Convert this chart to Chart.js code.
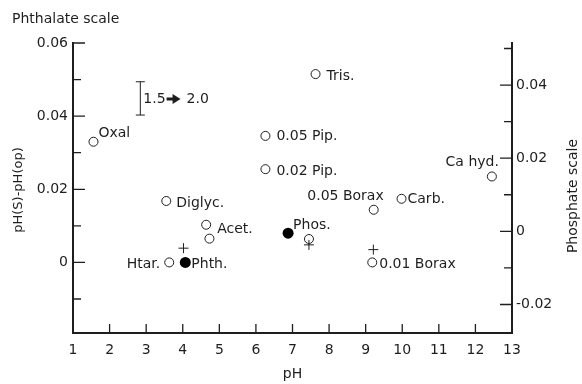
<!DOCTYPE html>
<html>
<head>
<meta charset="utf-8">
<script src="https://cdn.jsdelivr.net/npm/chart.js@4.4.1/dist/chart.umd.min.js"></script>
<style>
  html, body { margin: 0; padding: 0; background: #fff; }
  #wrap { width: 582px; height: 384px; position: relative; }
</style>
</head>
<body>
<div id="wrap"><canvas id="chart"></canvas></div>
<script>
// Buffer standards: pH against pH(S) - pH(op) on the phthalate scale
const bufferNames = ['Oxal', 'Diglyc.', 'Acet.', '', 'Htar.', 'Tris.', '0.05 Pip.', '0.02 Pip.',
                     '0.05 Borax', 'Carb.', 'Ca hyd.', '', '0.01 Borax'];
const bufferPH    = [1.56, 3.55, 4.64, 4.73, 3.63, 7.63, 6.26, 6.26, 9.22, 9.98, 12.45, 7.45, 9.18];
const bufferDiff  = [0.033, 0.0168, 0.0103, 0.0065, 0.0, 0.0515, 0.0346, 0.0255, 0.0144, 0.0174, 0.0235, 0.0064, 0.0];

// Reference standards (filled)
const refNames = ['Phth.', 'Phos.'];
const refPH    = [4.07, 6.88];
const refDiff  = [0.0, 0.008];

// Crosses
const crossPH   = [4.02, 7.45, 9.21];
const crossDiff = [0.0039, 0.0048, 0.0035];

// Error bar marker with the "1.5 -> 2.0" note
const errPH = 2.84;
const errLow = 0.0403;
const errHigh = 0.0494;
const errFrom = '1.5';
const errTo = '2.0';

// Axes
const phTicks = [1, 2, 3, 4, 5, 6, 7, 8, 9, 10, 11, 12, 13];
const phMin = 1, phMax = 13;
const leftTickValues = [0, 0.02, 0.04, 0.06];
const leftTickLabels = ['0', '0.02', '0.04', '0.06'];
const leftMinor = [-0.01, 0.01, 0.03, 0.05];
const leftMin = -0.0193, leftMax = 0.06;
const rightTickValues = [-0.02, 0, 0.02, 0.04];
const rightTickLabels = ['-0.02', '0', '0.02', '0.04'];
const rightMinor = [-0.01, 0.01, 0.03, 0.05];
const rightMin = -0.0278, rightMax = 0.0515;

const INK = '#1e1e1e';
const FONT = "'DejaVu Sans', 'Liberation Sans', sans-serif";

// Label placement relative to each point (pixels)
const labelPlacement = {
  'Oxal':       { dx: 5,  dy: -8.5, align: 'left' },
  'Diglyc.':    { dx: 10, dy: 2,    align: 'left' },
  'Acet.':      { dx: 11, dy: 5,    align: 'left' },
  'Htar.':      { dx: -9, dy: 1.5,  align: 'right' },
  'Tris.':      { dx: 11, dy: 2,    align: 'left' },
  '0.05 Pip.':  { dx: 11, dy: 0,    align: 'left' },
  '0.02 Pip.':  { dx: 11, dy: 2,    align: 'left' },
  '0.05 Borax': { dx: 10, dy: -13,  align: 'right' },
  'Carb.':      { dx: 6,  dy: 1,    align: 'left' },
  'Ca hyd.':    { dx: 7,  dy: -14.5, align: 'right' },
  '0.01 Borax': { dx: 7,  dy: 2,    align: 'left' },
  'Phth.':      { dx: 6,  dy: 1.5,  align: 'left' },
  'Phos.':      { dx: 5,  dy: -8,   align: 'left' }
};

const toPoints = (xs, ys) => xs.map((x, i) => ({ x: x, y: ys[i] }));

// Inward tick marks on the three drawn axes
const inwardTicks = {
  id: 'inwardTicks',
  afterDraw(chart) {
    const { ctx, chartArea, scales } = chart;
    ctx.save();
    ctx.strokeStyle = INK;
    ctx.lineWidth = 1.3;
    ctx.beginPath();
    phTicks.filter(v => v > phMin && v < phMax).forEach(v => {
      const px = scales.x.getPixelForValue(v);
      ctx.moveTo(px, chartArea.bottom);
      ctx.lineTo(px, chartArea.bottom - 9);
    });
    const leftX = chartArea.left, rightX = chartArea.right;
    leftTickValues.forEach(v => {
      const py = scales.y.getPixelForValue(v);
      ctx.moveTo(leftX, py); ctx.lineTo(leftX + 12, py);
    });
    leftMinor.forEach(v => {
      const py = scales.y.getPixelForValue(v);
      ctx.moveTo(leftX, py); ctx.lineTo(leftX + 8, py);
    });
    rightTickValues.forEach(v => {
      const py = scales.y2.getPixelForValue(v);
      ctx.moveTo(rightX, py); ctx.lineTo(rightX - 12, py);
    });
    rightMinor.forEach(v => {
      const py = scales.y2.getPixelForValue(v);
      ctx.moveTo(rightX, py); ctx.lineTo(rightX - 8, py);
    });
    ctx.stroke();
    ctx.restore();
  }
};

// Point labels, error bar note and axis titles
const annotations = {
  id: 'annotations',
  afterDraw(chart) {
    const { ctx, chartArea, scales } = chart;
    ctx.save();
    ctx.fillStyle = INK;
    ctx.font = '14px ' + FONT;
    ctx.textBaseline = 'middle';

    const drawLabel = (name, x, y) => {
      if (!name || !labelPlacement[name]) return;
      const p = labelPlacement[name];
      ctx.textAlign = p.align;
      ctx.fillText(name, scales.x.getPixelForValue(x) + p.dx, scales.y.getPixelForValue(y) + p.dy);
    };
    bufferNames.forEach((n, i) => drawLabel(n, bufferPH[i], bufferDiff[i]));
    refNames.forEach((n, i) => drawLabel(n, refPH[i], refDiff[i]));

    // error bar
    const ex = scales.x.getPixelForValue(errPH);
    const ey1 = scales.y.getPixelForValue(errHigh);
    const ey2 = scales.y.getPixelForValue(errLow);
    ctx.strokeStyle = INK;
    ctx.lineWidth = 1;
    ctx.beginPath();
    ctx.moveTo(ex, ey1); ctx.lineTo(ex, ey2);
    ctx.moveTo(ex - 4.5, ey1); ctx.lineTo(ex + 4.5, ey1);
    ctx.moveTo(ex - 4.5, ey2); ctx.lineTo(ex + 4.5, ey2);
    ctx.stroke();
    const ty = (ey1 + ey2) / 2 + 0.5;
    ctx.textAlign = 'left';
    let tx = ex + 3;
    ctx.fillText(errFrom, tx, ty);
    tx += ctx.measureText(errFrom).width + 1;
    // arrow
    ctx.beginPath();
    ctx.rect(tx, ty - 1.5, 7, 3);
    ctx.moveTo(tx + 6, ty - 5);
    ctx.lineTo(tx + 14, ty);
    ctx.lineTo(tx + 6, ty + 5);
    ctx.closePath();
    ctx.fill();
    tx += 20;
    ctx.fillText(errTo, tx, ty);

    // titles
    ctx.font = '14px ' + FONT;
    ctx.textAlign = 'left';
    ctx.fillText('Phthalate scale', 12, 19);
    ctx.textAlign = 'center';
    ctx.fillText('pH', (chartArea.left + chartArea.right) / 2, 374);

    ctx.font = '13px ' + FONT;
    ctx.save();
    ctx.translate(19, 190);
    ctx.rotate(-Math.PI / 2);
    ctx.fillText('pH(S)-pH(op)', 0, 0);
    ctx.restore();

    ctx.font = '14px ' + FONT;
    ctx.save();
    ctx.translate(573, 196);
    ctx.rotate(-Math.PI / 2);
    ctx.fillText('Phosphate scale', 0, 0);
    ctx.restore();

    ctx.restore();
  }
};

const tickFont = { family: FONT, size: 14 };

new Chart(document.getElementById('chart'), {
  type: 'scatter',
  data: {
    datasets: [
      {
        label: 'Buffers',
        data: toPoints(bufferPH, bufferDiff),
        pointStyle: 'circle',
        pointRadius: 4.5,
        borderWidth: 1,
        borderColor: INK,
        backgroundColor: 'rgba(255,255,255,0)'
      },
      {
        label: 'Reference',
        data: toPoints(refPH, refDiff),
        pointStyle: 'circle',
        pointRadius: 5.5,
        borderWidth: 0,
        borderColor: INK,
        backgroundColor: '#000'
      },
      {
        label: 'Cross',
        data: toPoints(crossPH, crossDiff),
        pointStyle: 'cross',
        pointRadius: 5,
        borderWidth: 1,
        borderColor: INK
      }
    ]
  },
  options: {
    responsive: true,
    maintainAspectRatio: false,
    animation: false,
    events: [],
    layout: { padding: { top: 43, left: 0, right: 0, bottom: 0 } },
    plugins: { legend: { display: false }, tooltip: { enabled: false } },
    scales: {
      x: {
        type: 'linear', position: 'bottom', min: phMin, max: phMax,
        afterBuildTicks: s => { s.ticks = phTicks.map(v => ({ value: v })); },
        afterFit: s => { s.height = 51; },
        ticks: { font: tickFont, color: INK, padding: 9, maxRotation: 0, autoSkip: false,
                 callback: (v, i) => String(phTicks[i]) },
        grid: { display: false, drawTicks: false },
        border: { display: true, color: INK, width: 2 }
      },
      y: {
        type: 'linear', position: 'left', min: leftMin, max: leftMax,
        afterBuildTicks: s => { s.ticks = leftTickValues.map(v => ({ value: v })); },
        afterFit: s => { s.width = 73; },
        ticks: { font: tickFont, color: INK, padding: 5, callback: (v, i) => leftTickLabels[i] },
        grid: { display: false, drawTicks: false },
        border: { display: true, color: INK, width: 2 }
      },
      y2: {
        type: 'linear', position: 'right', min: rightMin, max: rightMax,
        afterBuildTicks: s => { s.ticks = rightTickValues.map(v => ({ value: v })); },
        afterFit: s => { s.width = 70; },
        ticks: { font: tickFont, color: INK, padding: 4, callback: (v, i) => rightTickLabels[i] },
        grid: { display: false, drawTicks: false },
        border: { display: true, color: INK, width: 2 }
      }
    }
  },
  plugins: [inwardTicks, annotations]
});
</script>
</body>
</html>
